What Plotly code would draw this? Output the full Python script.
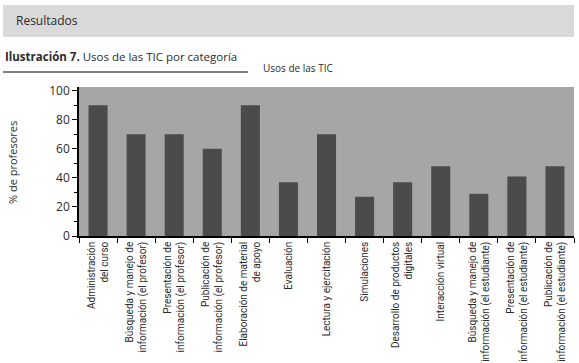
import plotly.graph_objects as go

categories = [
    "Administración<br>del curso",
    "Búsqueda y manejo de<br>información (el profesor)",
    "Presentación de<br>información (el profesor)",
    "Publicación de<br>información (el profesor)",
    "Elaboración de material<br>de apoyo",
    "Evaluación",
    "Lectura y ejercitación",
    "Simulaciones",
    "Desarrollo de productos<br>digitales",
    "Interacción virtual",
    "Búsqueda y manejo de<br>información (el estudiante)",
    "Presentación de<br>información (el estudiante)",
    "Publicación de<br>información (el estudiante)",
]
values = [90, 70, 70, 60, 90, 37, 70, 27, 37, 48, 29, 41, 48]
y_ticks = [0, 20, 40, 60, 80, 100]

W, H = 579, 363
L, R, T, B = 79, 5, 87, 127
pw = W - L - R
ph = H - T - B

def px(x):
    return (x - L) / pw

def py(y):
    return (H - B - y) / ph

FONT = "Open Sans"
NARROW = "Roboto"
TXT = "#2b2b2b"

fig = go.Figure(go.Bar(x=categories, y=values, marker=dict(color="#4b4b4b", line=dict(width=0)), width=0.5))

fig.update_layout(
    width=W, height=H,
    margin=dict(l=L, r=R, t=T, b=B, autoexpand=False),
    paper_bgcolor="white",
    plot_bgcolor="#a6a6a6",
    showlegend=False,
    font=dict(family=FONT, color=TXT),
    xaxis=dict(
        type="category", tickangle=-90, showgrid=False, automargin=False,
        showline=True, linecolor="black", linewidth=1.5,
        ticks="outside", tickson="boundaries", ticklen=5, tickcolor="black",
        tickfont=dict(size=10, family=NARROW, color=TXT),
    ),
    yaxis=dict(
        range=[0, 102.5], tickvals=y_ticks, showgrid=False, zeroline=False, automargin=False,
        showline=True, linecolor="black", linewidth=1.5,
        ticks="outside", ticklen=5, tickcolor="black",
        minor=dict(dtick=10, ticks="outside", ticklen=3, tickcolor="black"),
        tickfont=dict(size=12, family=FONT, color=TXT),
    ),
    shapes=[
        dict(type="rect", xref="paper", yref="paper", x0=px(3), x1=px(574), y0=py(37), y1=py(5),
             fillcolor="#d9d9d9", line=dict(width=0), layer="below"),
        dict(type="line", xref="paper", yref="paper", x0=px(3), x1=px(248), y0=py(72), y1=py(72),
             line=dict(color="black", width=1)),
    ],
    annotations=[
        dict(text="Resultados", xref="paper", yref="paper", x=px(14), y=py(20), xanchor="left", yanchor="middle",
             showarrow=False, font=dict(size=12, color=TXT)),
        dict(text="<b>Ilustración 7.</b> Usos de las TIC por categoría", xref="paper", yref="paper",
             x=px(3), y=py(56), xanchor="left", yanchor="middle", showarrow=False,
             font=dict(size=11.5, color=TXT)),
        dict(text="Usos de las TIC", xref="paper", yref="paper", x=px(261), y=py(68), xanchor="left",
             yanchor="middle", showarrow=False, font=dict(size=10, color=TXT)),
        dict(text="% de profesores", xref="paper", yref="paper", x=px(12), y=py(163), xanchor="center",
             yanchor="middle", textangle=-90, showarrow=False, font=dict(size=11, color=TXT)),
    ],
)

fig.write_html("out.html", config={"displayModeBar": False},
               post_script="document.body.style.margin='0';document.body.style.padding='0';")
